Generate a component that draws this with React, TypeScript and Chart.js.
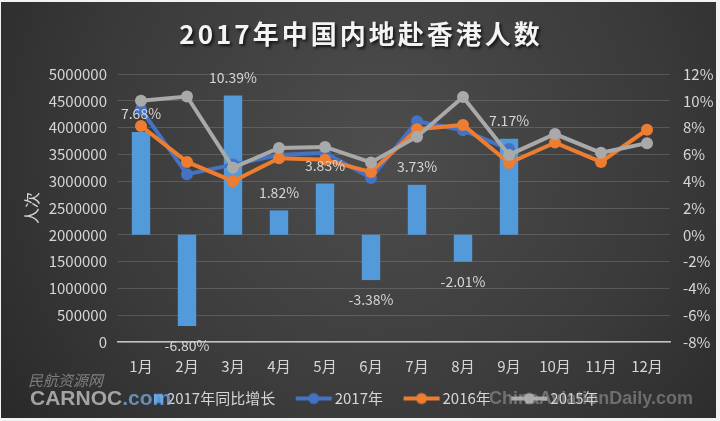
import { useEffect, useRef } from 'react';
import { Chart, registerables } from 'chart.js';

Chart.register(...registerables);

const months = ['1月', '2月', '3月', '4月', '5月', '6月', '7月', '8月', '9月', '10月', '11月', '12月'];
const growth2017 = [7.68, -6.8, 10.39, 1.82, 3.83, -3.38, 3.73, -2.01, 7.17, null, null, null];
const visitors2017 = [4340000, 3130000, 3310000, 3490000, 3530000, 3060000, 4120000, 3950000, 3600000, null, null, null];
const visitors2016 = [4030000, 3360000, 3000000, 3430000, 3400000, 3170000, 3970000, 4050000, 3340000, 3720000, 3360000, 3960000];
const visitors2015 = [4500000, 4580000, 3250000, 3620000, 3640000, 3350000, 3830000, 4570000, 3490000, 3880000, 3530000, 3710000];

const titleText = '2017年中国内地赴香港人数';
const seriesLabels = ['2017年同比增长', '2017年', '2016年', '2015年'];
const FONT = '"Noto Sans CJK SC", "Noto Sans", sans-serif';

const BAR_COLOR = '#539adb';
const BLUE = '#4472c4';
const ORANGE = '#ed7d31';
const GREY = '#a9a9a9';
const TEXT = '#d6d6d6';

const ICON_W = 49;

function lineIcon(color: string) {
  const c = document.createElement('canvas');
  c.width = ICON_W;
  c.height = 14;
  const g = c.getContext('2d')!;
  g.strokeStyle = color;
  g.lineWidth = 4;
  g.beginPath();
  g.moveTo(12, 7);
  g.lineTo(48, 7);
  g.stroke();
  g.fillStyle = color;
  g.beginPath();
  g.arc(30, 7, 5.5, 0, Math.PI * 2);
  g.fill();
  return c;
}

function boxIcon(color: string) {
  const c = document.createElement('canvas');
  c.width = ICON_W;
  c.height = 14;
  const g = c.getContext('2d')!;
  g.fillStyle = color;
  g.fillRect(38, 2.5, 9, 9);
  return c;
}

const backgroundPlugin = {
  id: 'bg',
  beforeDraw(chart: any) {
    const { ctx, width, height } = chart;
    ctx.save();
    ctx.fillStyle = '#f2f2f2';
    ctx.fillRect(0, 0, width, height);
    const grad = ctx.createRadialGradient(380, 150, 0, 380, 150, 520);
    grad.addColorStop(0, '#4d4d4d');
    grad.addColorStop(0.55, '#3a3a3a');
    grad.addColorStop(1, '#242424');
    ctx.fillStyle = grad;
    ctx.fillRect(1, 2, 715, 416);
    // title
    ctx.font = `bold 26px ${FONT}`;
    (ctx as any).letterSpacing = '3px';
    ctx.textAlign = 'center';
    ctx.textBaseline = 'middle';
    ctx.shadowColor = 'rgba(0,0,0,0.7)';
    ctx.shadowOffsetX = 2;
    ctx.shadowOffsetY = 2;
    ctx.shadowBlur = 3;
    ctx.fillStyle = '#f4f4f4';
    ctx.fillText(titleText, 361, 34);
    ctx.restore();
  },
};

const labelPlugin = {
  id: 'barLabels',
  afterDatasetsDraw(chart: any) {
    const { ctx } = chart;
    const meta = chart.getDatasetMeta(0);
    ctx.save();
    ctx.font = `14px ${FONT}`;
    ctx.fillStyle = TEXT;
    ctx.textAlign = 'center';
    ctx.textBaseline = 'middle';
    meta.data.forEach((el: any, i: number) => {
      const v = growth2017[i];
      if (v === null || v === undefined) return;
      const y = v >= 0 ? el.y - 18 : el.y + 20;
      ctx.fillText(v.toFixed(2) + '%', el.x, y);
    });
    ctx.restore();
  },
};

const watermarkPlugin = {
  id: 'watermark',
  afterDraw(chart: any) {
    const { ctx } = chart;
    ctx.save();
    ctx.textBaseline = 'middle';
    ctx.textAlign = 'left';
    ctx.fillStyle = 'rgba(190,190,190,0.55)';
    ctx.font = `italic 15px ${FONT}`;
    ctx.fillText('民航资源网', 28, 380);
    ctx.font = 'bold 21px "Liberation Sans", sans-serif';
    ctx.fillStyle = 'rgba(185,185,185,0.85)';
    ctx.fillText('CARNOC', 30, 399);
    const w = ctx.measureText('CARNOC').width;
    ctx.fillStyle = 'rgba(120,170,230,0.75)';
    ctx.fillText('.com', 30 + w, 399);
    ctx.font = 'bold 18px "Liberation Sans", sans-serif';
    ctx.fillStyle = 'rgba(180,180,180,0.45)';
    ctx.textAlign = 'right';
    ctx.fillText('ChinaAviationDaily.com', 693, 399);
    ctx.restore();
  },
};

export default function App() {
  const ref = useRef<HTMLCanvasElement | null>(null);

  useEffect(() => {
    if (!ref.current) return;
    const icons = [boxIcon(BAR_COLOR), lineIcon(BLUE), lineIcon(ORANGE), lineIcon(GREY)];
    const chart = new Chart(ref.current, {
      type: 'bar',
      data: {
        labels: months,
        datasets: [
          {
            type: 'bar',
            label: seriesLabels[0],
            data: growth2017,
            yAxisID: 'y1',
            backgroundColor: BAR_COLOR,
            barPercentage: 0.4,
            categoryPercentage: 1,
            order: 4,
          },
          {
            type: 'line',
            label: seriesLabels[1],
            data: visitors2017,
            yAxisID: 'y',
            borderColor: BLUE,
            backgroundColor: BLUE,
            borderWidth: 4,
            pointRadius: 6,
            pointBorderWidth: 0,
            tension: 0,
            order: 3,
          },
          {
            type: 'line',
            label: seriesLabels[2],
            data: visitors2016,
            yAxisID: 'y',
            borderColor: ORANGE,
            backgroundColor: ORANGE,
            borderWidth: 4,
            pointRadius: 6,
            pointBorderWidth: 0,
            tension: 0,
            order: 2,
          },
          {
            type: 'line',
            label: seriesLabels[3],
            data: visitors2015,
            yAxisID: 'y',
            borderColor: GREY,
            backgroundColor: GREY,
            borderWidth: 4,
            pointRadius: 6,
            pointBorderWidth: 0,
            tension: 0,
            order: 1,
          },
        ] as any,
      },
      options: {
        responsive: false,
        animation: false,
        layout: { padding: { top: 74, left: 0, right: 0, bottom: 5 } },
        plugins: {
          title: { display: false },
          tooltip: { enabled: false },
          legend: {
            position: 'bottom',
            labels: {
              usePointStyle: true,
              pointStyleWidth: 38,
              boxHeight: 14,
              padding: 14,
              color: TEXT,
              font: { size: 15, family: FONT },
              generateLabels: (ch: any) =>
                ch.data.datasets.map((ds: any, i: number) => ({
                  text: ds.label,
                  fillStyle: ds.backgroundColor,
                  strokeStyle: ds.borderColor,
                  lineWidth: 0,
                  pointStyle: icons[i],
                  hidden: false,
                  datasetIndex: i,
                  fontColor: TEXT,
                })),
            },
          },
        },
        scales: {
          x: {
            offset: true,
            grid: { display: false },
            border: { display: true, color: '#c4c4c4', width: 1.5 },
            ticks: { color: TEXT, font: { size: 15, family: FONT }, padding: 7 },
            afterFit: (s: any) => {
              s.height = 35;
            },
          },
          y: {
            position: 'left',
            min: 0,
            max: 5000000,
            ticks: {
              stepSize: 500000,
              color: TEXT,
              font: { size: 15, family: FONT },
              padding: 11,
              callback: (v: any) => String(v),
            },
            grid: { color: 'rgba(255,255,255,0.15)', drawTicks: false },
            border: { display: false },
            title: {
              display: true,
              text: '人次',
              color: TEXT,
              font: { size: 16, family: FONT },
              padding: { top: 22, bottom: 0 },
            },
            afterFit: (s: any) => {
              s.width = 118;
            },
          },
          y1: {
            position: 'right',
            min: -8,
            max: 12,
            ticks: {
              stepSize: 2,
              color: TEXT,
              font: { size: 15, family: FONT },
              padding: 13,
              callback: (v: any) => v + '%',
            },
            grid: { display: false, drawTicks: false },
            border: { display: false },
            afterFit: (s: any) => {
              s.width = 50;
            },
          },
        },
      },
      plugins: [backgroundPlugin, labelPlugin, watermarkPlugin],
    });
    return () => chart.destroy();
  }, []);

  return (
    <div style={{ position: 'fixed', left: 0, top: 0, width: 720, height: 421 }}>
      <canvas ref={ref} width={720} height={421} />
    </div>
  );
}
